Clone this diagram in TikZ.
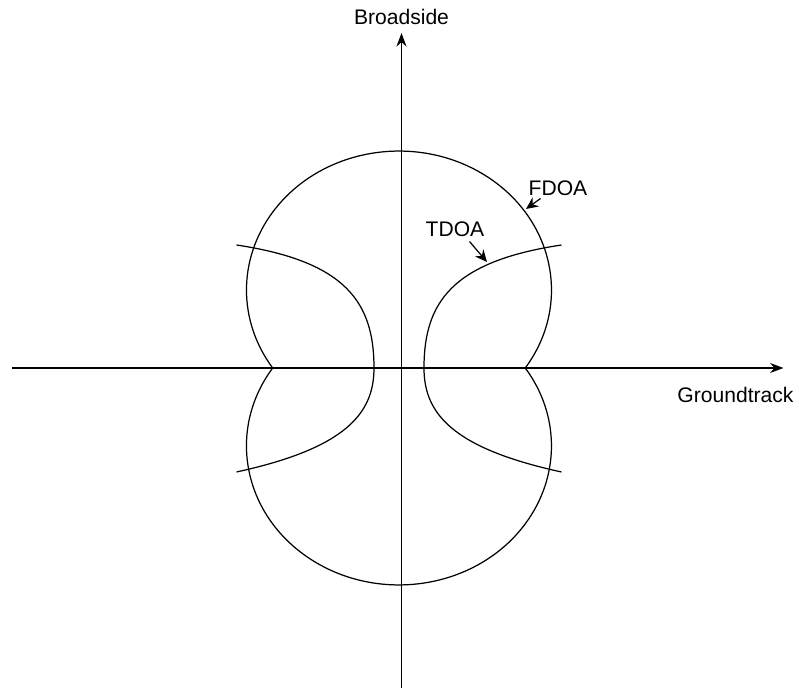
\documentclass[tikz,border=0pt]{standalone}
\usepackage{fontspec}
\setmainfont{Liberation Sans}
\usetikzlibrary{arrows.meta,positioning}

\begin{document}
\begin{tikzpicture}[
  axis/.style={-{Stealth[length=0.27cm, width=0.2cm]}, line width=0.7pt},
  curve/.style={line width=0.7pt},
  lbl/.style={font=\fontsize{12pt}{14pt}\selectfont, inner sep=1pt},
  ar/.style={-{Stealth[length=0.24cm, width=0.22cm]}, line width=0.7pt},
]

\useasboundingbox (-8.03,-6.44) rectangle (7.95,7.36);

%── Achsen ─────────────────────────────────────────────────────────────────────

\coordinate (gtstart) at (-7.78,0);
\coordinate (gtend)   at (7.64,0);
\coordinate (bsstart) at (0,-6.4);
\coordinate (bsend)   at (0,6.7);

\draw[axis] (gtstart) -- (gtend);
\draw[axis] (bsstart) -- (bsend);

\node[lbl] (broadside)   at (0,7.02)     {Broadside};
\node[lbl] (groundtrack) at (6.68,-0.54) {Groundtrack};

%── FDOA-Kurve ─────────────────────────────────────────────────────────────────

\draw[curve] (2.475,0)
  arc[start angle=-34.1, end angle=214.1, x radius=3.05, y radius=2.78]
  arc[start angle=145.9, end angle=394.1, x radius=3.05, y radius=2.78]
  -- cycle;

%── TDOA-Kurven ────────────────────────────────────────────────────────────────

\begin{scope}[xshift=-0.05cm]
  % rechts
  \draw[curve] (3.25,2.46) .. controls (1.05,2.13) and (0.5,1.3) .. (0.5,0)
    .. controls (0.5,-0.9) and (1.05,-1.6) .. (3.25,-2.08);
  % links
  \draw[curve] (-3.25,2.46) .. controls (-1.05,2.13) and (-0.5,1.3) .. (-0.5,0)
    .. controls (-0.5,-0.9) and (-1.05,-1.6) .. (-3.25,-2.08);
\end{scope}

%── Beschriftungen ─────────────────────────────────────────────────────────────

\node[lbl] (fdoa) at (3.13,3.6)  {FDOA};
\node[lbl] (tdoa) at (1.07,2.78) {TDOA};

\coordinate (fdoatail) at (2.78,3.39);
\coordinate (fdoatip)  at (2.49,3.18);
\coordinate (tdoatail) at (1.36,2.53);
\coordinate (tdoatip)  at (1.71,2.12);

\draw[ar] (fdoatail) -- (fdoatip);
\draw[ar] (tdoatail) -- (tdoatip);

\end{tikzpicture}
\end{document}
